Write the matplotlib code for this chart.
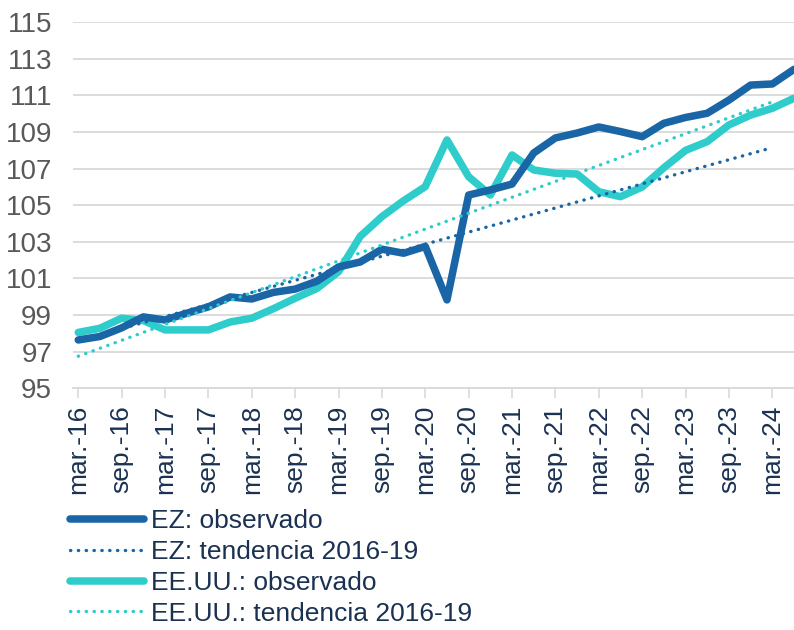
import matplotlib
matplotlib.use("Agg")
import matplotlib.pyplot as plt
import numpy as np

plt.rcParams['font.family'] = ['Liberation Sans', 'DejaVu Sans']

# Quarterly periods mar-16 ... jun-24
quarters = ["mar.-16", "jun.-16", "sep.-16", "dic.-16",
            "mar.-17", "jun.-17", "sep.-17", "dic.-17",
            "mar.-18", "jun.-18", "sep.-18", "dic.-18",
            "mar.-19", "jun.-19", "sep.-19", "dic.-19",
            "mar.-20", "jun.-20", "sep.-20", "dic.-20",
            "mar.-21", "jun.-21", "sep.-21", "dic.-21",
            "mar.-22", "jun.-22", "sep.-22", "dic.-22",
            "mar.-23", "jun.-23", "sep.-23", "dic.-23",
            "mar.-24", "jun.-24"]

ez_obs = [97.64, 97.83, 98.30, 98.90, 98.73, 99.10, 99.45, 99.99,
          99.88, 100.24, 100.42, 100.85, 101.63, 101.90, 102.60, 102.38,
          102.75, 99.83, 105.56, 105.84, 106.16, 107.86, 108.68, 108.95,
          109.28, 109.03, 108.75, 109.48, 109.80, 110.03, 110.75, 111.57,
          111.63, 112.43]

us_obs = [98.05, 98.28, 98.83, 98.70, 98.19, 98.19, 98.19, 98.62,
          98.83, 99.35, 99.92, 100.45, 101.37, 103.30, 104.38, 105.25,
          106.02, 108.57, 106.56, 105.56, 107.75, 106.93, 106.75, 106.71,
          105.74, 105.47, 106.00, 107.05, 108.00, 108.48, 109.39, 109.93,
          110.30, 110.85]

# Linear 2016-19 trends: start / end values (mar.-16 and mar.-24)
trend_periods = ["mar.-16", "mar.-24"]
ez_trend = [97.60, 108.15]
us_trend = [96.75, 110.65]

tick_labels = ["mar.-16", "sep.-16", "mar.-17", "sep.-17", "mar.-18", "sep.-18",
               "mar.-19", "sep.-19", "mar.-20", "sep.-20", "mar.-21", "sep.-21",
               "mar.-22", "sep.-22", "mar.-23", "sep.-23", "mar.-24"]
y_ticks = [95, 97, 99, 101, 103, 105, 107, 109, 111, 113, 115]

C_EZ = "#1965A6"
C_US = "#2ECCCB"
TXT = "#1B3152"
GRAY_TXT = "#595959"
GRID = "#D9D9D9"

fig = plt.figure(figsize=(7.94, 6.30), dpi=100)
ax = fig.add_axes([0.092, 0.3837, 0.908, 0.5809])

x = np.arange(len(quarters))
tx = [quarters.index(p) for p in trend_periods]

ln1, = ax.plot(x, ez_obs, color=C_EZ, lw=5.4, solid_capstyle='round',
               solid_joinstyle='round', zorder=4)
ln2, = ax.plot(tx, ez_trend, color=C_EZ, lw=2.4, linestyle=(0, (0.1, 2.25)),
               dash_capstyle='round', zorder=5)
ln3, = ax.plot(x, us_obs, color=C_US, lw=5.4, solid_capstyle='round',
               solid_joinstyle='round', zorder=3)
ln4, = ax.plot(tx, us_trend, color=C_US, lw=2.4, linestyle=(0, (0.1, 2.25)),
               dash_capstyle='round', zorder=5)

ax.set_ylim(95, 115)
ax.set_yticks(y_ticks)
ax.set_yticklabels([str(v) for v in y_ticks])
ax.set_xlim(-0.24, 33.0)
ax.set_xticks([quarters.index(l) for l in tick_labels])
ax.set_xticklabels(tick_labels, rotation=90, va='top', ha='center')

ax.grid(axis='y', color=GRID, lw=1.3)
ax.set_axisbelow(True)
for s in ['top', 'right', 'left']:
    ax.spines[s].set_visible(False)
ax.spines['bottom'].set_color(GRID)
ax.spines['bottom'].set_linewidth(1.3)

ax.tick_params(axis='y', length=0, pad=15, labelsize=20, labelcolor=GRAY_TXT)
ax.tick_params(axis='x', length=7, width=1.2, color=GRID, pad=5,
               labelsize=19, labelcolor=TXT)

leg = fig.legend([ln1, ln2, ln3, ln4],
                 ["EZ: observado", "EZ: tendencia 2016-19",
                  "EE.UU.: observado", "EE.UU.: tendencia 2016-19"],
                 loc='upper left', bbox_to_anchor=(0.088, 0.192),
                 frameon=False, fontsize=19, handlelength=2.8,
                 handletextpad=0.27, labelspacing=0.26, borderpad=0,
                 borderaxespad=0)
for t in leg.get_texts():
    t.set_color(TXT)

fig.savefig("out.png", dpi=100)
